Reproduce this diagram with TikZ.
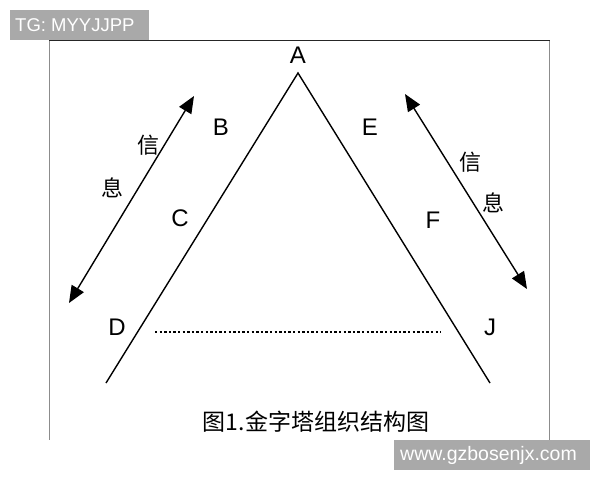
\documentclass[tikz,border=0pt]{standalone}
\usepackage{fontspec}
\setmainfont{Liberation Sans}
\newfontfamily\cjk{Noto Sans CJK SC}
\usetikzlibrary{arrows.meta}
\definecolor{wmgray}{HTML}{A9A9A9}
\definecolor{framegray}{HTML}{8C8C8C}
\tikzset{
  edge/.style={line width=1.4pt, black},
  infoarrow/.style={line width=1.4pt, black, {Triangle[length=17pt,width=14pt]}-{Triangle[length=17pt,width=14pt]}},
  letter/.style={font=\fontsize{24}{24}\selectfont, inner sep=0pt, anchor=center},
  hanzi/.style={font=\cjk\fontsize{22}{22}\selectfont, inner sep=0pt, anchor=center},
  caption/.style={font=\cjk\fontsize{23}{23}\selectfont, inner sep=0pt, anchor=center},
  wmtext/.style={text=white, inner sep=0pt, anchor=west}
}
\begin{document}
\begin{tikzpicture}[x=1pt,y=-1pt]
\useasboundingbox (0,0) rectangle (600,480);
\fill[white] (0,0) rectangle (600,480);
% frame
\draw[framegray, line width=1pt] (49.5,40.5) -- (49.5,440);
\draw[framegray, line width=1pt] (549.5,40.5) -- (549.5,440);
\draw[black!85, line width=1.3pt] (49,40.5) -- (550,40.5);
% triangle
\coordinate (apex) at (298,73);
\coordinate (bl) at (106,383);
\coordinate (br) at (490,383);
\draw[edge] (bl) -- (apex) -- (br);
% info arrows
\coordinate (la1) at (69,303);
\coordinate (la2) at (194,96);
\coordinate (ra1) at (405,94);
\coordinate (ra2) at (527,289);
\draw[infoarrow] (la1) -- (la2);
\draw[infoarrow] (ra1) -- (ra2);
% dotted line
\coordinate (dl) at (155,332);
\coordinate (dr) at (441,332);
\draw[line width=2.8pt, dash pattern=on 2.3pt off 2.3pt] (dl) -- (dr);
% letters
\node[letter] (A) at (298,55) {A};
\node[letter] (B) at (221,127) {B};
\node[letter] (E) at (370,127) {E};
\node[letter] (C) at (180,218) {C};
\node[letter] (F) at (433,220) {F};
\node[letter] (D) at (117,327) {D};
\node[letter] (J) at (490,327) {J};
% hanzi
\node[hanzi] (xinL) at (148,145) {信};
\node[hanzi] (xiL) at (112,188) {息};
\node[hanzi] (xinR) at (470,162) {信};
\node[hanzi] (xiR) at (493,203) {息};
% caption
\node[caption] (cap) at (316,422) {图1.金字塔组织结构图};
% watermarks
\fill[wmgray] (10,10) rectangle (149,40);
\node[wmtext, font=\fontsize{18.5}{18.5}\selectfont] (tg) at (15,25) {TG: MYYJJPP};
\fill[wmgray] (394,440) rectangle (590,470);
\node[wmtext, font=\fontsize{19.5}{19.5}\selectfont] (www) at (400,455) {www.gzbosenjx.com};
\end{tikzpicture}
\end{document}
